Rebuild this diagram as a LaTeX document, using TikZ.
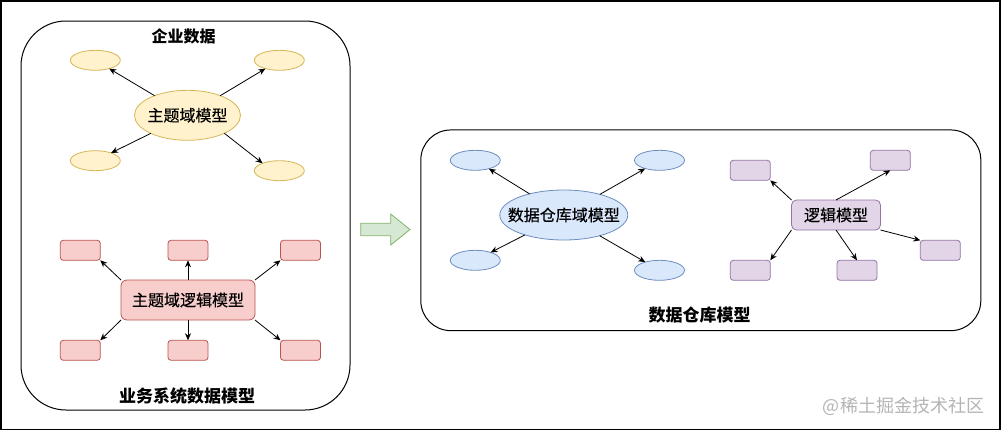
\documentclass[tikz,border=0pt]{standalone}
\usepackage{fontspec}
\setmainfont{Noto Sans CJK SC}
\newfontfamily\nodefont[FakeBold=0.35]{Noto Sans CJK SC}
\usetikzlibrary{shapes.geometric,arrows.meta}
\definecolor{yfill}{HTML}{FFF2CC}
\definecolor{ydraw}{HTML}{D6B656}
\definecolor{rfill}{HTML}{F8CECC}
\definecolor{rdraw}{HTML}{B85450}
\definecolor{bfill}{HTML}{DAE8FC}
\definecolor{bdraw}{HTML}{6C8EBF}
\definecolor{pfill}{HTML}{E1D5E7}
\definecolor{pdraw}{HTML}{9673A6}
\definecolor{gfill}{HTML}{D5E8D4}
\definecolor{gdraw}{HTML}{82B366}
\definecolor{wm}{HTML}{B4B4B4}
\begin{document}
\begin{tikzpicture}[x=1pt,y=-1pt,
  every node/.style={inner sep=0pt, outer sep=0pt, font=\nodefont\fontsize{16}{19}\selectfont},
  container/.style={draw=black, line width=1pt, rounded corners=#1},
  yell/.style={ellipse, draw=ydraw, fill=yfill, line width=0.8pt, minimum width=50pt, minimum height=20pt},
  blu/.style={ellipse, draw=bdraw, fill=bfill, line width=0.8pt, minimum width=50pt, minimum height=20pt},
  bigell/.style={inner xsep=-15pt, inner ysep=0pt},
  pink/.style={rectangle, draw=rdraw, fill=rfill, line width=0.8pt, rounded corners=3pt, minimum width=40pt, minimum height=20pt},
  purp/.style={rectangle, draw=pdraw, fill=pfill, line width=0.8pt, rounded corners=3pt, minimum width=40pt, minimum height=20pt},
  arr/.style={-{Stealth[length=7pt,width=6pt]}, line width=0.8pt, draw=black},
  titletext/.style={font=\rmfamily\fontsize{#1}{20}\selectfont\bfseries}]
\useasboundingbox (0,0) rectangle (1001,431);
\draw[line width=1.2pt] (1,1) rectangle (1000,429.5);

% containers
\node[container=45pt, minimum width=329pt, minimum height=389pt] (leftbox) at (185.5,215.5) {};
\node[container=30pt, minimum width=560pt, minimum height=200.7pt] (rightbox) at (700.8,230.3) {};

% titles
\node[titletext=16] (t1) at (183.5,36.7) {企业数据};
\node[titletext=17] (t2) at (187,395.7) {业务系统数据模型};
\node[titletext=17] (t3) at (699.5,315) {数据仓库模型};

% yellow group
\node[yell, bigell, minimum width=106pt, minimum height=50pt] (yc) at (187.5,115.3) {主题域模型};
\node[yell] (ytl) at (95.3,60.3) {};
\node[yell] (ytr) at (279.3,60.3) {};
\node[yell] (ybl) at (95.3,160.7) {};
\node[yell] (ybr) at (279.3,170.7) {};
\draw[arr] (yc) -- (ytl);
\draw[arr] (yc) -- (ytr);
\draw[arr] (yc) -- (ybl);
\draw[arr] (yc.-26) -- (ybr.156);

% pink group
\node[pink, rounded corners=6pt, minimum width=134pt, minimum height=40pt] (pc) at (188,300) {主题域逻辑模型};
\node[pink] (ptl) at (80.3,250.3) {};
\node[pink] (ptm) at (188,250.3) {};
\node[pink] (ptr) at (300.5,250.3) {};
\node[pink] (pbl) at (80.3,350.3) {};
\node[pink] (pbm) at (188,350.3) {};
\node[pink] (pbr) at (300.5,350.3) {};
\draw[arr] (pc.north west) -- (ptl.south east);
\draw[arr] (pc.north) -- (ptm.south);
\draw[arr] (pc.north east) -- (ptr.south west);
\draw[arr] (pc.south west) -- (pbl.north east);
\draw[arr] (pc.south) -- (pbm.north);
\draw[arr] (pc.south east) -- (pbr.north west);

% green arrow
\draw[draw=gdraw, fill=gfill, line width=0.8pt] (360.7,223.3) -- (390.7,223.3) -- (390.7,214) -- (410,229.5) -- (390.7,245) -- (390.7,235.7) -- (360.7,235.7) -- cycle;

% blue group
\node[blu, bigell, minimum width=128pt, minimum height=50pt] (bc) at (563.8,215) {数据仓库域模型};
\node[blu] (btl) at (475.3,160.3) {};
\node[blu] (btr) at (659.5,160.3) {};
\node[blu] (bbl) at (475.3,260.3) {};
\node[blu] (bbr) at (659.5,270.3) {};
\draw[arr] (bc) -- (btl);
\draw[arr] (bc) -- (btr);
\draw[arr] (bc) -- (bbl);
\draw[arr] (bc) -- (bbr);

% purple group
\node[purp, rounded corners=5pt, minimum width=89pt, minimum height=30pt] (qc) at (836,215) {逻辑模型};
\node[purp] (qtl) at (750.3,170.3) {};
\node[purp] (qtr) at (890.3,160.3) {};
\node[purp] (qr) at (940.3,250.3) {};
\node[purp] (qbl) at (750.3,270.3) {};
\node[purp] (qbm) at (857,270.3) {};
\draw[arr] (qc.north west) -- (qtl.south east);
\draw[arr] (qc.north) -- (qtr.south);
\draw[arr] (qc.south west) -- (qbl.north east);
\draw[arr] (qc.south) -- (qbm.north);
\draw[arr] (qc.south east) -- (qr.north west);

% watermark
\node[text=wm, font=\rmfamily\fontsize{18}{20}\selectfont] (wmk) at (903.5,406.7) {@稀土掘金技术社区};
\end{tikzpicture}
\end{document}
